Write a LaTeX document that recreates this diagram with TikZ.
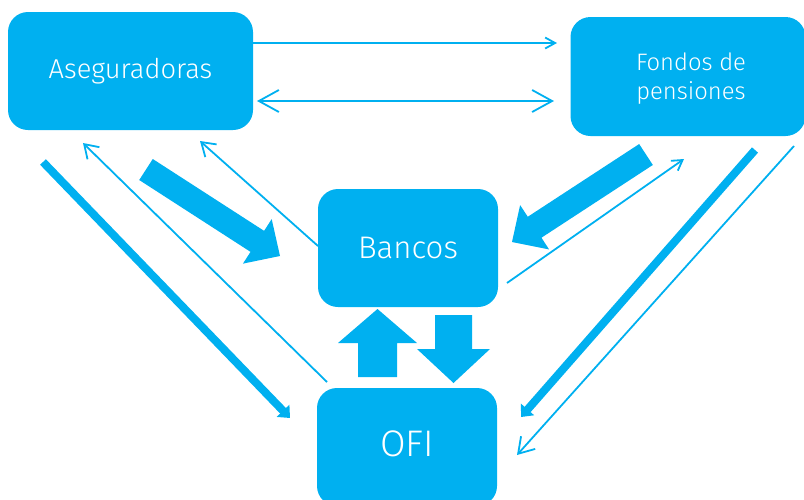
\documentclass[tikz,border=0pt]{standalone}
\usepackage{fontspec}
\setmainfont{Fira Sans}[UprightFont = * Light]
\usetikzlibrary{arrows.meta,calc}
\definecolor{cyanb}{HTML}{00B0F0}
\newcommand\blockarr[5]{% #1 start, #2 tip, #3 half shaft, #4 half head, #5 head length
  \coordinate (#1h) at ($(#2)!#5!(#1)$);
  \fill[cyanb] ($(#1)!#3!90:(#2)$) -- ($(#1h)!#3!90:(#2)$) -- ($(#1h)!#4!90:(#2)$) -- (#2)
    -- ($(#1h)!#4!-90:(#2)$) -- ($(#1h)!#3!-90:(#2)$) -- ($(#1)!#3!-90:(#2)$) -- cycle;}
\begin{document}
\begin{tikzpicture}[x=1pt,y=-1pt,
  box/.style={fill=cyanb, rounded corners=20pt, text=white, align=center, inner sep=0pt},
  thinline/.style={draw=cyanb, line width=1.8pt},
  thickline/.style={draw=cyanb, line width=8pt, -{Triangle[length=10pt,width=17pt]}},
  barb/.style args={#1/#2}{-{Straight Barb[length=#1pt,width=#2pt]}},
  dbarb/.style args={#1/#2}{{Straight Barb[length=#1pt,width=#2pt]}-{Straight Barb[length=#1pt,width=#2pt]}}]
\useasboundingbox (0,0) rectangle (804,499);
% boxes
\node[box, minimum width=245pt, minimum height=118pt, font=\fontsize{27.3}{32}\selectfont] (aseg) at (130.5,71) {Aseguradoras};
\node[box, minimum width=235pt, minimum height=119pt] (fondos) at (688,76.5) {};
\node[text=white, align=center, inner sep=0pt, font=\fontsize{23.8}{29.5}\selectfont] (fondost) at (691,78.5) {Fondos de\\pensiones};
\node[box, minimum width=180pt, minimum height=118pt, font=\fontsize{31.2}{36}\selectfont] (bancos) at (408,248) {Bancos};
\node[box, minimum width=180pt, minimum height=118pt] (ofi) at (407,447) {};
\node[text=white, inner sep=0pt, font=\fontsize{37}{42}\selectfont] (ofit) at (407,444) {OFI};
% endpoints
\coordinate (t1s) at (253,43);  \coordinate (t1e) at (557,43);
\coordinate (t2s) at (257,101); \coordinate (t2e) at (554,101);
\coordinate (oa1) at (327,382); \coordinate (oa2) at (83,143);
\coordinate (ba1) at (318,246); \coordinate (ba2) at (200,141);
\coordinate (bf1) at (507,283); \coordinate (bf2) at (684,159);
\coordinate (fo1) at (794,146); \coordinate (fo2) at (517,455);
\coordinate (ao1) at (43,162);  \coordinate (ao2) at (290,418);
\coordinate (fo3) at (755,150); \coordinate (fo4) at (521,417);
% thin connectors
\draw[thinline, barb=10/11] (t1s) -- (t1e);
\draw[thinline, dbarb=20/22] (t2s) -- (t2e);
\draw[thinline, barb=13/17] (oa1) -- (oa2);
\draw[thinline, barb=13/17] (ba1) -- (ba2);
\draw[thinline, barb=10/12] (bf1) -- (bf2);
\draw[thinline, barb=15/19] (fo1) -- (fo2);
% thick connectors
\draw[thickline] (ao1) -- (ao2);
\draw[thickline] (fo3) -- (fo4);
% big block arrows
\coordinate (bl1) at (146,169.5); \coordinate (bl1t) at (280,256);
\blockarr{bl1}{bl1t}{12.5pt}{26.5pt}{27pt}
\coordinate (bl2) at (646,154.5); \coordinate (bl2t) at (512,242);
\blockarr{bl2}{bl2t}{12.5pt}{26.5pt}{27pt}
% up / down block arrows between Bancos and OFI
\fill[cyanb] (358,377) -- (358,343) -- (338,343) -- (377.5,309) -- (417,343) -- (397,343) -- (397,377) -- cycle;
\fill[cyanb] (435,315) -- (472,315) -- (472,349) -- (490,349) -- (453.5,383) -- (417,349) -- (435,349) -- cycle;
\end{tikzpicture}
\end{document}
